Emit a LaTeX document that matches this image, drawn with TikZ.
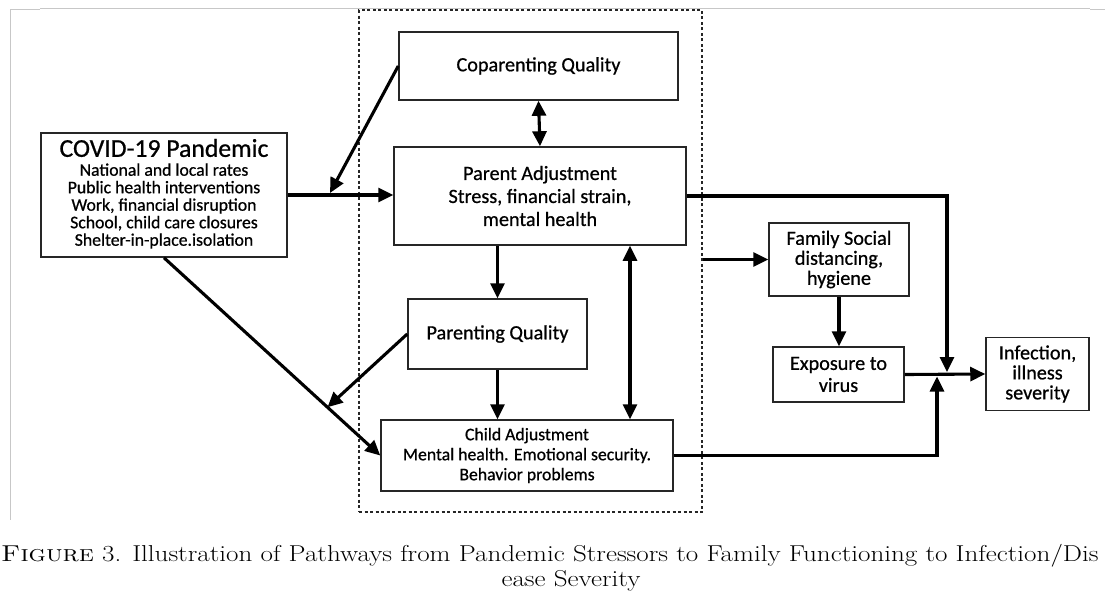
\documentclass[tikz,border=0pt]{standalone}
\usepackage{fontspec}
\newfontfamily\calfont[RawFeature={embolden=0.7}]{Carlito}
\usetikzlibrary{arrows.meta,calc}
\begin{document}
\begin{tikzpicture}[x=1pt,y=-1pt,
  box/.style={draw=black!85, line width=1.5pt, fill=white, inner sep=0pt, align=center, font=\calfont\fontsize{20.2}{21}\selectfont},
  arr/.style={line width=3.1pt, -{Triangle[length=15pt,width=14pt]}},
  darr/.style={line width=3.1pt, {Triangle[length=15pt,width=14pt]}-{Triangle[length=15pt,width=14pt]}},
  scan/.style={draw=black!22, line width=1pt},
  grpbox/.style={draw=black!85, dash pattern=on 3pt off 2.5pt, line width=1.1pt, inner sep=0pt},
  captxt/.style={inner sep=0pt, font=\fontsize{23}{30}\selectfont}]
\clip (0,0) rectangle (1105,592);
\fill[white] (0,0) rectangle (1105,592);
% faint scan frame
\draw[scan] (40,8) -- (1090,8);
\draw[scan] (10,9) -- (40,9);
\draw[scan] (1090,9) -- (1105,9);
\draw[scan] (10,9) -- (10,520);
% group box
\node[grpbox, minimum width=343pt, minimum height=502pt] (grp) at (530.5,261) {};
% boxes
\node[box, minimum width=246pt, minimum height=124pt] (covid) at (164,195) {};
\node[font=\calfont\fontsize{25.7}{26}\selectfont, inner sep=0pt] (covidT) at (164,148) {COVID-19 Pandemic};
\node[font=\calfont\fontsize{17.7}{17.5}\selectfont, align=center, inner sep=0pt] (covidL) at (164,206) {National and local rates\\Public health interventions\\Work, financial disruption\\School, child care closures\\Shelter-in-place.isolation};
\node[box, minimum width=279pt, minimum height=68pt] (cop) at (538.5,66) {Coparenting Quality};
\node[box, minimum width=292pt, minimum height=98pt, font=\calfont\fontsize{20.2}{23}\selectfont] (par) at (540,196) {Parent Adjustment\\Stress, financial strain,\\mental health};
\node[box, minimum width=179pt, minimum height=70pt] (pq) at (497.5,334) {Parenting Quality};
\node[box, minimum width=292pt, minimum height=71pt, font=\calfont\fontsize{17.7}{20}\selectfont] (child) at (527,455.5) {Child Adjustment\\Mental health. Emotional security.\\Behavior problems};
\node[box, minimum width=140pt, minimum height=73pt, font=\calfont\fontsize{20.2}{20}\selectfont] (fam) at (839,259.5) {Family Social\\distancing,\\hygiene};
\node[box, minimum width=131pt, minimum height=55pt, font=\calfont\fontsize{20.2}{22}\selectfont] (exp) at (838.5,374.5) {Exposure to\\virus};
\node[box, minimum width=103pt, minimum height=73pt, font=\calfont\fontsize{20.2}{20}\selectfont] (inf) at (1037.5,374) {Infection,\\illness\\severity};
% connectors
\coordinate (m1) at (330,193);
\coordinate (v) at (630,0);
\coordinate (j1) at (947,372);
\coordinate (j2) at (937,376.5);
\draw[arr] (covid.east) -- (covid.east -| par.west);
\draw[arr] (cop.west) -- (m1);
\draw[darr] (cop.south) -- (par.north);
\draw[arr] (pq.north |- par.south) -- (pq.north);
\draw[arr] (pq.south) -- (pq.south |- child.north);
\draw[darr] (v |- par.south) -- (v |- child.north);
\draw[arr] (covid.south) -- (child.west);
\coordinate (m2) at ($(covid.south)!0.756!(child.west)$);
\draw[arr] (pq.west) -- (m2);
\draw[arr] (par.east) -| (j1);
\draw[arr] (child.east) -| (j2);
\draw[arr] (exp.east) -- (inf.west);
\draw[arr] (grp.east |- fam.west) -- (fam.west);
\draw[arr] (fam.south) -- (fam.south |- exp.north);
% caption
\node[captxt, anchor=base west] (cap1) at (1,561) {\scalebox{1.177}[1]{\textsc{Figure} 3. Illustration of Pathways from Pandemic Stressors to Family Functioning to Infection/Dis}};
\node[captxt, anchor=base] (cap2) at (571,586) {\scalebox{1.177}[1]{ease Severity}};
\end{tikzpicture}
\end{document}
